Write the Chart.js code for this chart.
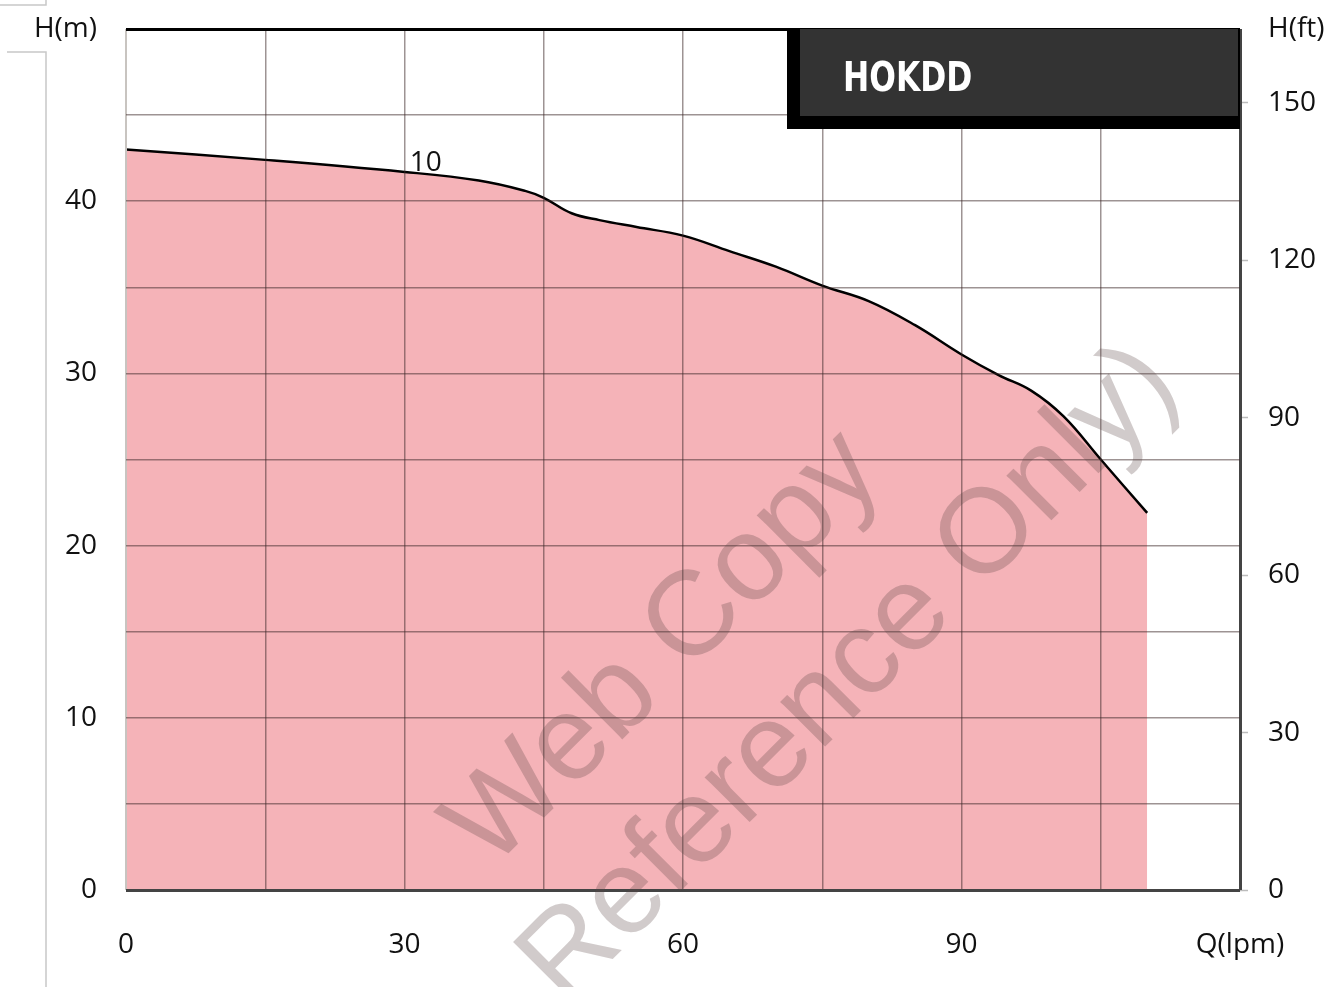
<!DOCTYPE html>
<html>
<head>
<meta charset="utf-8">
<title>HOKDD</title>
<script src="https://cdn.jsdelivr.net/npm/chart.js@4.4.1/dist/chart.umd.min.js"></script>
<style>
  html, body { margin: 0; padding: 0; background: #fff; }
  #wrap { width: 1331px; height: 987px; }
</style>
</head>
<body>
<div id="wrap"><canvas id="pumpChart" width="1331" height="987"></canvas></div>
<script>
// pump curve
const flowLpm = [0, 15, 30, 38, 43, 45, 48, 51, 55, 60, 65, 70, 75, 80, 85, 90, 94, 97.5, 101, 105, 110];
const headM   = [43.0, 42.4, 41.7, 41.2, 40.6, 40.2, 39.3, 38.9, 38.5, 38.0, 37.1, 36.2, 35.1, 34.2, 32.8, 31.1, 29.9, 29.0, 27.5, 25.0, 21.9];

const xLabelValues = [0, 30, 60, 90, 120];
const xLabelTexts  = ['0', '30', '60', '90', 'Q(lpm)'];
const mLabelValues = [0, 10, 20, 30, 40, 50];
const mLabelTexts  = ['0', '10', '20', '30', '40', 'H(m)'];
const ftTickValues = [0, 30, 60, 90, 120, 150];

const modelName = 'HOKDD';
const curveTag = '10';
const curveTagAt = [32.3, 42.2];   // flow, head
const watermarkLines = ['Web Copy', 'Reference Only)'];

const M_MAX = 50;
const FT_MAX = M_MAX * 3.281;

const gridColor = 'rgba(60,40,40,0.5)';
const tickFont = { family: '"Open Sans", "Noto Sans", sans-serif', size: 28 };

// keep the plot box where the picture has it
function fixWidth(w) {
    return s => {
        s.width = w;
        s.paddingTop = 0;
        s.paddingBottom = 0;
    };
}

const overlay = {
    id: 'overlay',
    beforeDraw(chart) {
        const c = chart.ctx;
        // small frame lines on the far left
        c.save();
        c.strokeStyle = '#c8c8c8';
        c.lineWidth = 1.5;
        c.beginPath();
        c.moveTo(0, 5); c.lineTo(46, 5); c.lineTo(46, 0);
        c.moveTo(7, 52); c.lineTo(46, 52); c.lineTo(46, 987);
        c.stroke();
        c.restore();
    },
    afterDraw(chart) {
        const c = chart.ctx;
        const xs = chart.scales.x, ys = chart.scales.y;

        // watermark
        c.save();
        c.fillStyle = 'rgba(90,70,70,0.28)';
        c.font = '120px "Liberation Sans", Arial, sans-serif';
        c.textAlign = 'center';
        c.textBaseline = 'middle';
        [[665, 650], [850, 675]].forEach((p, i) => {
            c.save();
            c.translate(p[0], p[1]);
            c.rotate(-Math.PI / 4);
            c.fillText(watermarkLines[i], 0, 0);
            c.restore();
        });
        c.restore();

        // curve tag
        c.save();
        c.fillStyle = '#111';
        c.font = '28px "Open Sans", sans-serif';
        c.textAlign = 'center';
        c.textBaseline = 'middle';
        c.fillText(curveTag, xs.getPixelForValue(curveTagAt[0]), ys.getPixelForValue(curveTagAt[1]));
        c.restore();

        // model box, top right
        const r = chart.chartArea.right;
        const t = chart.chartArea.top;
        c.save();
        c.fillStyle = '#000';
        c.fillRect(787, t, r - 787, 100);
        c.fillStyle = '#333';
        c.fillRect(800, t, r - 800 - 2, 87);
        c.fillStyle = '#fff';
        c.font = 'bold 41px "DejaVu Sans Condensed", sans-serif';
        c.textBaseline = 'middle';
        c.translate(843, t + 51);
        c.scale(0.85, 1);
        c.fillText(modelName, 0, 0);
        c.restore();
    }
};

new Chart(document.getElementById('pumpChart'), {
    type: 'line',
    data: {
        datasets: [{
            data: flowLpm.map((q, i) => ({ x: q, y: headM[i] })),
            borderColor: '#000',
            borderWidth: 2.5,
            backgroundColor: '#f5b3b8',
            fill: 'origin',
            tension: 0.4,
            pointRadius: 0
        }]
    },
    options: {
        responsive: false,
        animation: false,
        devicePixelRatio: 1,
        layout: { autoPadding: false, padding: { top: 29, left: 0, right: 0, bottom: 0 } },
        plugins: { legend: { display: false }, tooltip: { enabled: false } },
        scales: {
            x: {
                type: 'linear',
                min: 0,
                max: 120,
                afterFit: s => { s.height = 97; },
                border: { display: false },
                grid: {
                    z: 1,
                    drawTicks: false,
                    color: ctx => ctx.tick.value === 120 ? '#444' : (ctx.tick.value === 0 ? '#c8c4c0' : gridColor),
                    lineWidth: ctx => ctx.tick.value === 120 ? 3 : (ctx.tick.value === 0 ? 2 : 1.5)
                },
                ticks: {
                    stepSize: 15,
                    padding: 38,
                    maxRotation: 0,
                    autoSkip: false,
                    color: '#111',
                    font: tickFont,
                    callback: v => {
                        const i = xLabelValues.indexOf(v);
                        return i < 0 ? '' : xLabelTexts[i];
                    }
                }
            },
            y: {
                position: 'left',
                min: 0,
                max: M_MAX,
                afterFit: fixWidth(126),
                border: { display: false },
                grid: {
                    z: 1,
                    drawTicks: false,
                    color: ctx => ctx.tick.value === M_MAX ? '#000' : (ctx.tick.value === 0 ? '#444' : gridColor),
                    lineWidth: ctx => (ctx.tick.value === M_MAX || ctx.tick.value === 0) ? 3 : 1.5
                },
                ticks: {
                    stepSize: 5,
                    padding: 29,
                    autoSkip: false,
                    color: '#111',
                    font: tickFont,
                    callback: v => {
                        const i = mLabelValues.indexOf(v);
                        return i < 0 ? '' : mLabelTexts[i];
                    }
                }
            },
            yft: {
                position: 'right',
                min: 0,
                max: FT_MAX,
                afterFit: fixWidth(91),
                afterBuildTicks: s => {
                    s.ticks = ftTickValues.map(v => ({ value: v })).concat({ value: FT_MAX });
                },
                border: { display: false },
                grid: {
                    drawOnChartArea: false,
                    tickLength: 8,
                    tickColor: ctx => ctx.tick && ctx.tick.value === FT_MAX ? 'rgba(0,0,0,0)' : '#bbb',
                    tickWidth: 1.5
                },
                ticks: {
                    padding: 20,
                    autoSkip: false,
                    color: '#111',
                    font: tickFont,
                    callback: v => v === FT_MAX ? 'H(ft)' : String(v)
                }
            }
        }
    },
    plugins: [overlay]
});
</script>
</body>
</html>
